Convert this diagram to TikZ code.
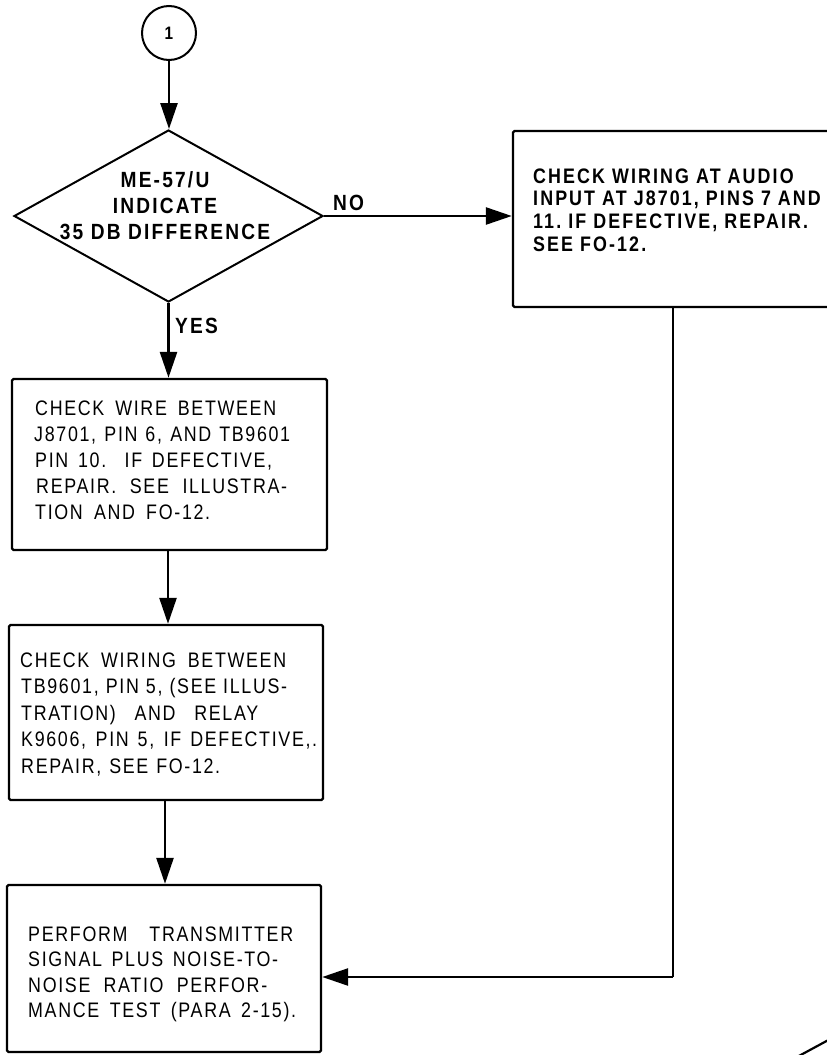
\documentclass[tikz,border=0pt]{standalone}
\usepackage{fontspec}
\setmainfont{Liberation Sans}
\newfontfamily\regf{Liberation Sans}[FakeStretch=0.85,LetterSpace=8]
\newfontfamily\bldf{Liberation Sans}[FakeStretch=0.85,LetterSpace=10]
\newfontfamily\bldw{Liberation Sans}[FakeStretch=0.87,LetterSpace=10]
\usetikzlibrary{arrows.meta,shapes.geometric}
\tikzset{
  stepbox/.style={draw, line width=2.4pt, rounded corners=1.5pt, inner sep=0pt},
  tx/.style={anchor=base west, inner sep=0pt, font=\regf\fontsize{21}{26}\selectfont},
  btx/.style={anchor=base, inner sep=0pt, font=\bldw\bfseries\fontsize{22}{26}\selectfont},
  btxl/.style={anchor=base west, inner sep=0pt, font=\bldf\bfseries\fontsize{21}{26}\selectfont},
  lbl/.style={anchor=base west, inner sep=0pt, font=\bldw\bfseries\fontsize{22}{26}\selectfont},
  flow/.style={line width=2.6pt, -{Triangle[length=26pt,width=17pt]}},
  plain/.style={line width=2.6pt}
}
\begin{document}
\begin{tikzpicture}[x=1pt,y=-1pt]
\useasboundingbox (0,0) rectangle (827,1055);
\clip (0,0) rectangle (827,1055);
% shapes
\node[draw, circle, line width=2pt, minimum size=54pt, inner sep=0pt,
      font=\bldf\bfseries\fontsize{18}{20}\selectfont] (start) at (169,33) {1};
\node[draw, diamond, line width=2pt, minimum width=309pt, minimum height=172pt, inner sep=0pt] (dia) at (168.5,216) {};
\node[stepbox, minimum width=315pt, minimum height=171pt] (box1) at (169.5,464.5) {};
\node[stepbox, minimum width=314pt, minimum height=175pt] (box2) at (166,712.5) {};
\node[stepbox, minimum width=314pt, minimum height=167pt] (box3) at (164,968.5) {};
\node[stepbox, minimum width=320pt, minimum height=176pt] (rbox) at (673,219) {};
% diamond text
\node[btx] (d1) at (165,187) {ME-57/U};
\node[btx] (d2) at (165,213) {INDICATE};
\node[btx] (d3) at (165,239) {35 DB DIFFERENCE};
% labels
\node[lbl] (no) at (333,210) {NO};
\node[lbl] (yes) at (175,333) {YES};
% right box text
\node[btxl] (r1) at (533,183) {CHECK WIRING AT AUDIO};
\node[btxl] (r2) at (533,205.7) {INPUT AT J8701, PINS 7 AND};
\node[btxl] (r3) at (533,228.3) {11.\ IF DEFECTIVE, REPAIR.};
\node[btxl] (r4) at (533,251) {SEE FO-12.};
% box1 text
\node[tx] (a1) at (35,415) {\makebox[241pt][s]{CHECK WIRE BETWEEN}};
\node[tx] (a2) at (34,441) {\makebox[256pt][s]{J8701, PIN 6, AND TB9601}};
\node[tx] (a3) at (35,467) {\makebox[237pt][s]{PIN 10. IF DEFECTIVE,}};
\node[tx] (a4) at (36,493) {\makebox[251pt][s]{REPAIR. SEE ILLUSTRA-}};
\node[tx] (a5) at (35,519) {\makebox[175pt][s]{TION AND FO-12.}};
% box2 text
\node[tx] (b1) at (20,667) {\makebox[266pt][s]{CHECK WIRING BETWEEN}};
\node[tx] (b2) at (21,693.5) {\makebox[266pt][s]{TB9601, PIN 5, (SEE ILLUS-}};
\node[tx] (b3) at (21,720) {\makebox[237pt][s]{TRATION) AND RELAY}};
\node[tx] (b4) at (21,746.5) {\makebox[296pt][s]{K9606, PIN 5, IF DEFECTIVE,.}};
\node[tx] (b5) at (21,773) {\makebox[199pt][s]{REPAIR, SEE FO-12.}};
% box3 text
\node[tx] (c1) at (28,941) {\makebox[265pt][s]{PERFORM TRANSMITTER}};
\node[tx] (c2) at (28,966.5) {\makebox[250pt][s]{SIGNAL PLUS NOISE-TO-}};
\node[tx] (c3) at (28,992) {\makebox[239pt][s]{NOISE RATIO PERFOR-}};
\node[tx] (c4) at (28,1017.5) {\makebox[268pt][s]{MANCE TEST (PARA 2-15).}};
% connectors
\draw[flow] (start.south) -- (start.south |- dia.north);
\draw[flow] (dia.south) -- (dia.south |- box1.north);
\draw[flow] (box1.south -| 168,0) -- (box2.north -| 168,0);
\draw[flow] (box2.south -| 165,0) -- (box3.north -| 165,0);
\draw[flow] (dia.east) -- (dia.east -| rbox.west);
\coordinate (turn) at (673,977);
\draw[plain] (rbox.south) -- (turn);
\draw[flow] (turn) -- (turn -| box3.east);
% partial shape at the lower right edge
\draw[line width=2.2pt] (797,1057) -- (845,1031);
\end{tikzpicture}
\end{document}
